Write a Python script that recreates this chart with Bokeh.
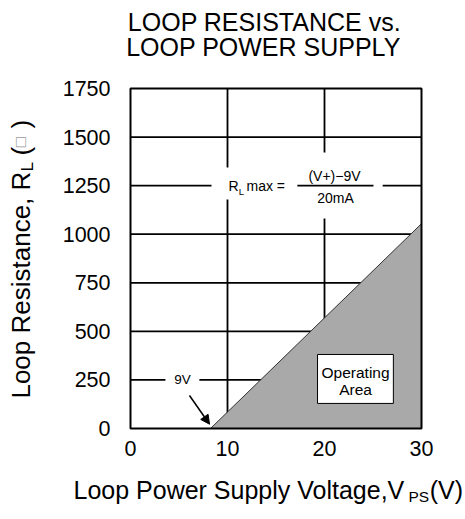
import math
from bokeh.plotting import figure
from bokeh.models import Range1d, Label, Arrow, NormalHead
from bokeh.core.properties import value
from bokeh.embed import file_html
from bokeh.resources import INLINE

# ---------------- data ----------------
x_ticks = [0, 10, 20, 30]
y_ticks = [0, 250, 500, 750, 1000, 1250, 1500, 1750]
x_tick_labels = [str(v) for v in x_ticks]
y_tick_labels = [str(v) for v in y_ticks]

# operating area boundary: R_L max vs supply voltage (as drawn)
v_supply = [8.25, 30.0, 30.0]
r_loop = [0.0, 1054.0, 0.0]

# grid segments (gaps left for the annotations)
grid_x0 = [10, 10, 20, 20, 0, 7.1, 0, 0, 0, 0, 17.2, 26.0, 0]
grid_y0 = [1750, 1179, 1750, 1081, 250, 250, 500, 750, 1000, 1250, 1250, 1250, 1500]
grid_x1 = [10, 10, 20, 20, 3.6, 30, 30, 30, 30, 8.35, 25.05, 30, 30]
grid_y1 = [1343, 0, 1421, 0, 250, 250, 500, 750, 1000, 1250, 1250, 1250, 1500]

X_MIN, X_MAX = 0, 30
Y_MIN, Y_MAX = 0, 1750

FONT = "Liberation Sans"

# the whole canvas is the plotting frame; the chart box sits inside it
p = figure(width=465, height=519, output_backend="svg", toolbar_location=None,
           x_range=Range1d(-13.402, 34.536), y_range=Range1d(-468.4, 2202.9),
           x_axis_type=None, y_axis_type=None, min_border=0)
p.background_fill_color = "white"
p.border_fill_color = "white"
p.outline_line_color = None

p.segment(grid_x0, grid_y0, grid_x1, grid_y1, line_color="black", line_width=1.8)

p.patch(v_supply, r_loop, fill_color="#a9a9a9", line_color="#333333", line_width=1)

# chart box
p.quad(left=[X_MIN], right=[X_MAX], bottom=[Y_MIN], top=[Y_MAX],
       fill_color=None, line_color="black", line_width=2)

# tick labels
p.text(x=x_ticks, y=[-103] * len(x_ticks), text=x_tick_labels,
       text_font=value(FONT), text_font_size="21.5px", text_align="center",
       text_baseline="middle", text_color="black")
p.text(x=[-2.06] * len(y_ticks), y=y_ticks, text=y_tick_labels,
       text_font=value(FONT), text_font_size="21.5px", text_align="right",
       text_baseline="middle", text_color="black")

# operating area box
p.quad(left=[19.28], right=[27.1], bottom=[129], top=[381],
       fill_color="white", line_color="black", line_width=1)


def lab(text, x, y, size, align="left", angle=0.0, color="black"):
    p.add_layout(Label(x=x, y=y, text=text, text_font=FONT, text_font_size=size,
                       text_align=align, text_baseline="middle", angle=angle,
                       text_color=color))


lab("Operating", 23.2, 286, "15.5px", align="center")
lab("Area", 23.2, 203, "15.5px", align="center")

lab("9V", 5.36, 250, "13.5px", align="center")
p.add_layout(Arrow(end=NormalHead(size=9, fill_color="black", line_color="black"),
                   x_start=6.08, y_start=170, x_end=8.15, y_end=22,
                   line_color="black", line_width=1.5))

# formula
lab("R", 10.10, 1248, "14px")
lab("L", 11.15, 1222, "9.5px")
lab("max =", 11.96, 1248, "14px")
lab("(V+)\u22129V", 21.03, 1302, "14px", align="center")
lab("20mA", 21.13, 1184, "14px", align="center")

# title
lab("LOOP RESISTANCE vs.", 13.81, 2090, "25px", align="center")
lab("LOOP POWER SUPPLY", 13.71, 1961, "25px", align="center")

# x axis label
lab("Loop Power Supply Voltage,V", -5.876, -319, "25px")
lab("PS", 28.66, -352, "15.5px")
lab("(V)", 30.85, -319, "25px")

# y axis label (rotated)
ang = math.pi / 2
lab("Loop Resistance, R", -11.34, 154, "26px", angle=ang)
lab("L", -10.65, 1323, "17px", angle=ang)
lab("(", -11.34, 1405, "26px", angle=ang)
lab("\u25a1", -11.34, 1448, "17px", angle=ang, color="#999999")
lab(")", -11.34, 1544, "26px", angle=ang)

open("out.html", "w").write(file_html(p, INLINE))
